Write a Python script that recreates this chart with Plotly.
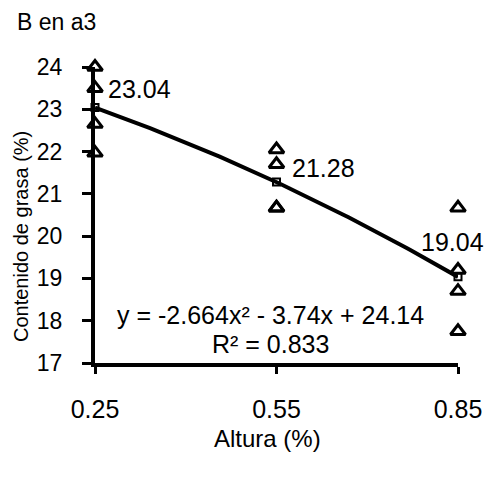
import numpy as np
import plotly.graph_objects as go

# Data
altura = [0.25, 0.55, 0.85]
obs_x = [0.25, 0.25, 0.25, 0.25, 0.55, 0.55, 0.55, 0.55, 0.85, 0.85, 0.85, 0.85]
obs_y = [24.0, 23.5, 22.65, 21.97, 22.05, 21.7, 20.67, 20.67, 20.67, 19.2, 18.7, 17.75]
medias = [23.04, 21.28, 19.04]
media_labels = ["23.04", "21.28", "19.04"]
coef = [-2.664, -3.74, 24.14]  # polynomial trendline coefficients
x_ticks = [0.25, 0.55, 0.85]
x_tick_labels = ["0.25", "0.55", "0.85"]
y_ticks = [17, 18, 19, 20, 21, 22, 23, 24]

FONT = "Liberation Sans, Arial, sans-serif"

xs = np.linspace(altura[0], altura[-1], 100)
ys = np.polyval(coef, xs)

fig = go.Figure()
fig.add_trace(go.Scatter(x=xs, y=ys, mode="lines",
                         line=dict(color="black", width=4), cliponaxis=False, showlegend=False))
fig.add_trace(go.Scatter(x=obs_x, y=obs_y, mode="markers",
                         marker=dict(symbol="triangle-up-open", size=13, color="black",
                                     line=dict(color="black", width=3)),
                         cliponaxis=False, showlegend=False))
fig.add_trace(go.Scatter(x=altura, y=medias, mode="markers",
                         marker=dict(symbol="square-open", size=7, color="black",
                                     line=dict(color="black", width=2)),
                         cliponaxis=False, showlegend=False))

W, H = 501, 486
ml, mr, mt, mb = 95, 43, 67, 123

def px_to_paper(px, py):
    return ((px - ml) / (W - ml - mr), 1 - (py - mt) / (H - mt - mb))

annots = []
# mean labels
label_pos = [(106, 89, "left"), (290, 168, "left"), (452, 242, "center")]
for (px, py, anc), t in zip(label_pos, media_labels):
    ax, ay = px_to_paper(px, py)
    annots.append(dict(x=ax, y=ay, xref="paper", yref="paper", text=t, showarrow=False,
                       xanchor=anc, yanchor="middle", font=dict(size=25, color="black", family=FONT)))

eq = "y = -2.664x² - 3.74x + 24.14"
ax, ay = px_to_paper(270, 315)
annots.append(dict(x=ax, y=ay, xref="paper", yref="paper", text=eq, showarrow=False,
                   xanchor="center", yanchor="middle", font=dict(size=25, color="black", family=FONT)))
ax, ay = px_to_paper(270, 344)
annots.append(dict(x=ax, y=ay, xref="paper", yref="paper", text="R² = 0.833", showarrow=False,
                   xanchor="center", yanchor="middle", font=dict(size=25, color="black", family=FONT)))

# title
ax, ay = px_to_paper(15, 22)
annots.append(dict(x=ax, y=ay, xref="paper", yref="paper", text="B en a3", showarrow=False,
                   xanchor="left", yanchor="middle", font=dict(size=23, color="black", family=FONT)))
# x axis title
ax, ay = px_to_paper(267, 438)
annots.append(dict(x=ax, y=ay, xref="paper", yref="paper", text="Altura (%)", showarrow=False,
                   xanchor="center", yanchor="middle", font=dict(size=24, color="black", family=FONT)))
# y axis title
ax, ay = px_to_paper(21, 237)
annots.append(dict(x=ax, y=ay, xref="paper", yref="paper", text="Contenido de grasa (%)", showarrow=False,
                   textangle=-90, xanchor="center", yanchor="middle",
                   font=dict(size=20, color="black", family=FONT)))

fig.update_layout(
    width=W, height=H,
    margin=dict(l=ml, r=mr, t=mt, b=mb),
    plot_bgcolor="white", paper_bgcolor="white",
    annotations=annots,
    xaxis=dict(range=[0.25, 0.85], tickvals=x_ticks, ticktext=x_tick_labels,
               showgrid=False, zeroline=False, showline=True, linecolor="black", linewidth=4,
               ticks="outside", ticklen=7, tickwidth=3, tickcolor="black",
               ticklabelstandoff=14,
               tickfont=dict(size=25, color="black", family=FONT)),
    yaxis=dict(range=[17, 24], tickvals=y_ticks,
               showgrid=False, zeroline=False, showline=True, linecolor="black", linewidth=4,
               ticks="outside", ticklen=9, tickwidth=3, tickcolor="black",
               ticklabelstandoff=15,
               tickfont=dict(size=23, color="black", family=FONT)),
)

fig.write_html("out.html")
